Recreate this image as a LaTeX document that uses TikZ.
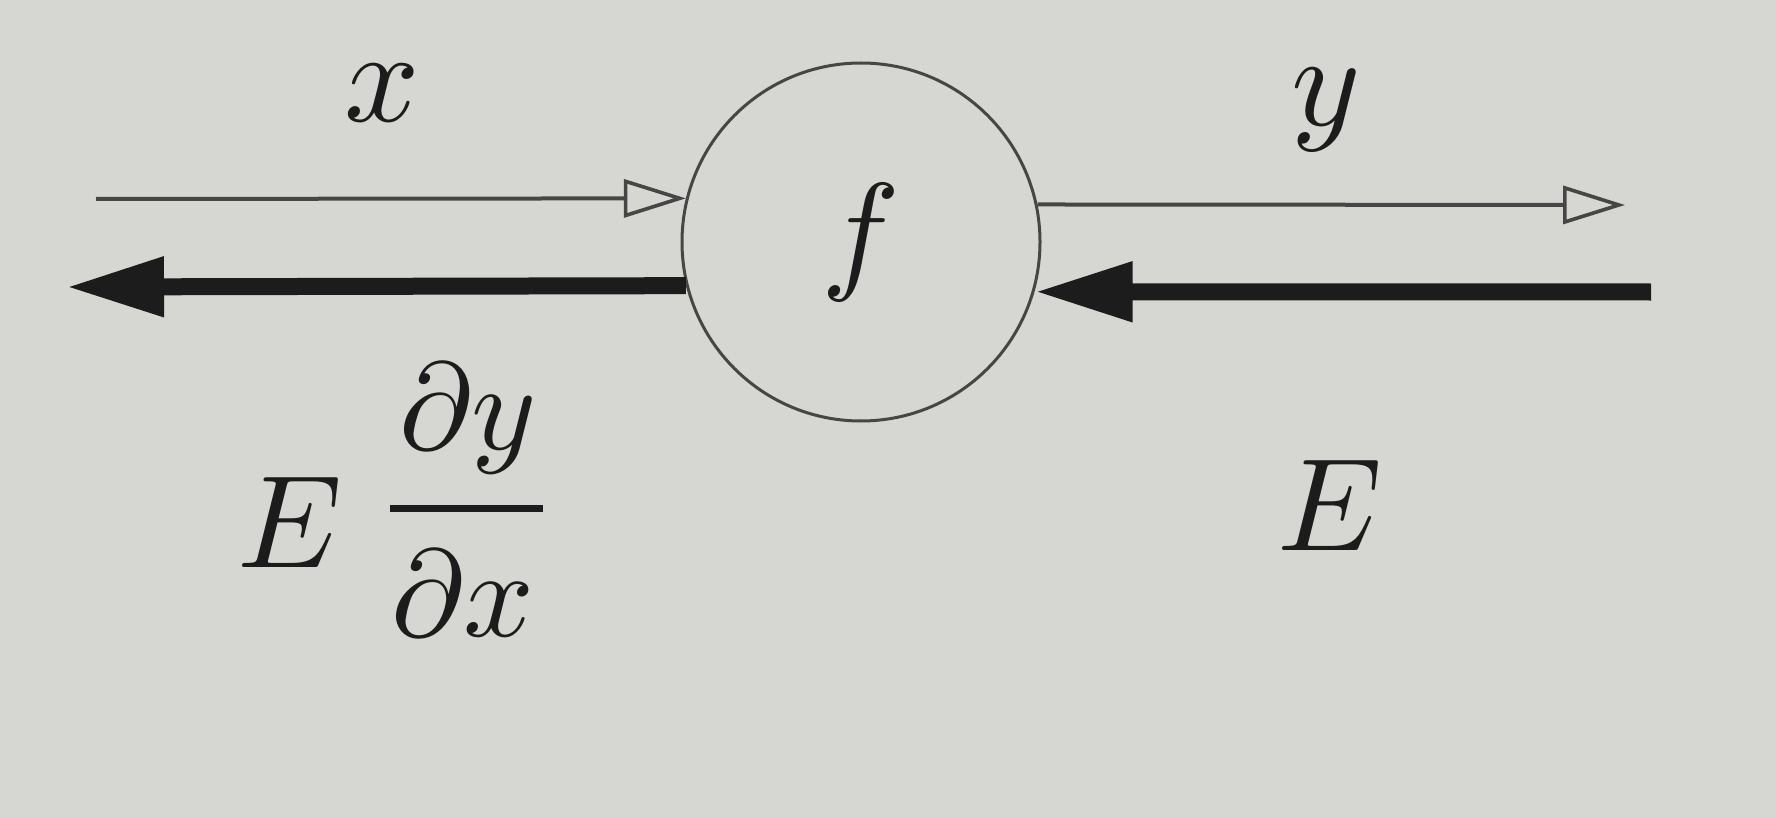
\documentclass[tikz,border=0pt]{standalone}
\usepackage{graphicx}
\usetikzlibrary{arrows.meta}
\definecolor{paper}{RGB}{214,214,210}
\definecolor{ink}{RGB}{28,28,28}
\definecolor{thinink}{RGB}{70,70,70}
\newcommand{\biglbl}[1]{\scalebox{6.6}{$#1$}}
\newcommand{\fraclbl}[1]{\scalebox{6.2}{$#1$}}
\tikzset{
 lbl/.style={text=ink, inner sep=0, anchor=base},
 fwd/.style={draw=thinink, line width=2pt, -{Triangle[open, length=31pt, width=19pt, line width=1.8pt]}},
 bwd/.style={draw=ink, line width=8.5pt, -{Triangle[length=49pt, width=28pt]}},
 fnode/.style={circle, draw=thinink, line width=1.5pt, minimum size=179pt, inner sep=0, text=ink}
}
\begin{document}
\begin{tikzpicture}[x=0.5pt,y=-0.5pt]
\fill[paper] (0,0) rectangle (1776,818);
\useasboundingbox (0,0) rectangle (1776,818);
\node[fnode] (f) at (861,242) {\biglbl{f}};
\coordinate (xin) at (96,199);
\coordinate (gout) at (66,287);
\coordinate (yout) at (1625,205);
\coordinate (ein) at (1651,292);
\draw[fwd] (xin) -- (f.166);
\draw[bwd] (f.194) -- (gout);
\draw[fwd] (f.12) -- (yout);
\draw[bwd] (ein) -- (f.-16);
\node[lbl] (xlbl) at (382,122) {\biglbl{x}};
\node[lbl] (ylbl) at (1326,126) {\biglbl{y}};
\node[lbl] (e2) at (1330,550) {\biglbl{E}};
\node[lbl] (e1) at (290,567) {\biglbl{E}};
\node[lbl] (num) at (468,449) {\fraclbl{\partial y}};
\node[inner sep=0, text=ink] (bar) at (466,508) {\rule{76.5pt}{3.5pt}};
\node[lbl] (den) at (463,636) {\fraclbl{\partial x}};
\end{tikzpicture}
\end{document}
